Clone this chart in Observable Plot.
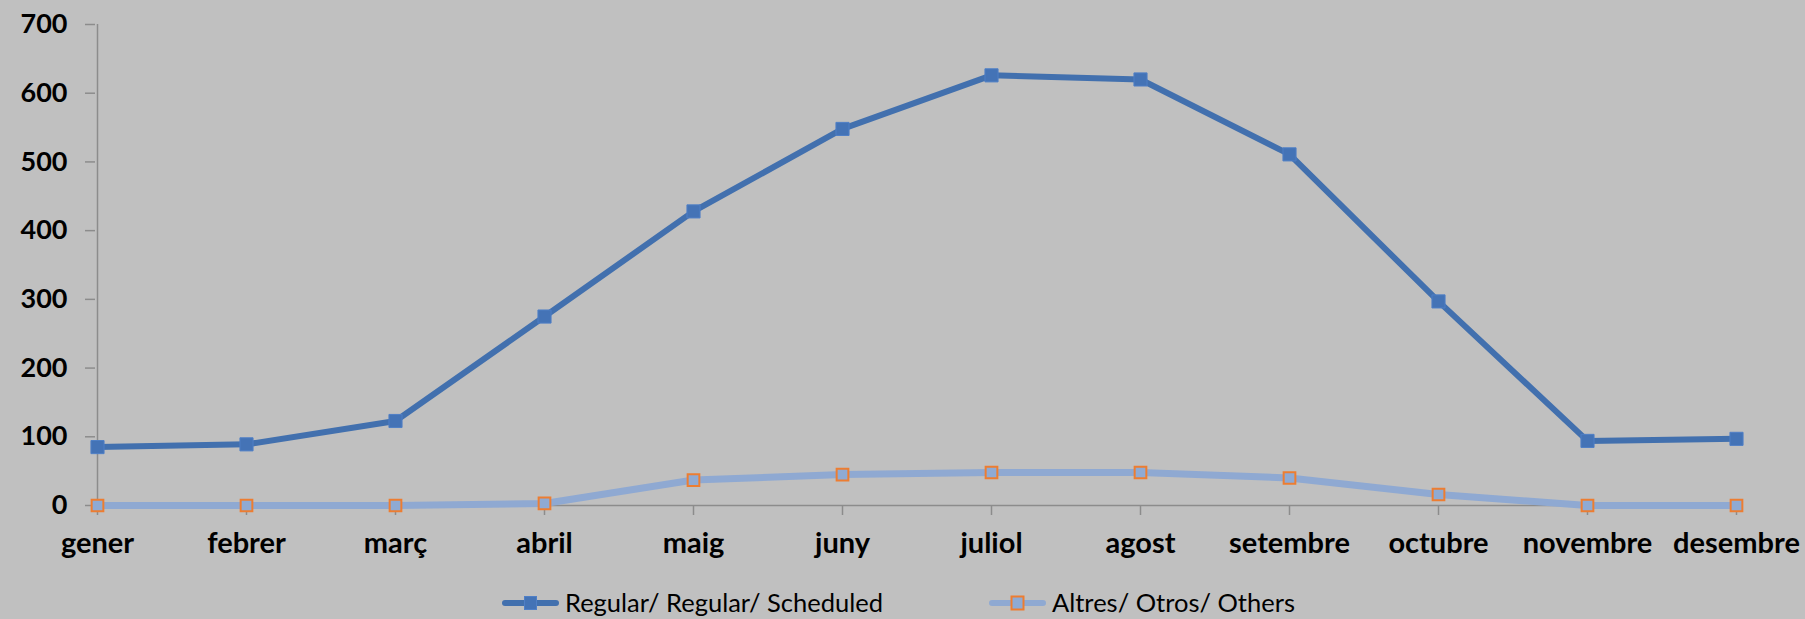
<!DOCTYPE html>
<html>
<head>
<meta charset="utf-8">
<script src="https://cdn.jsdelivr.net/npm/d3@7"></script>
<script src="https://cdn.jsdelivr.net/npm/@observablehq/plot@0.6"></script>
<style>
  html, body { margin: 0; padding: 0; background: #C0C0C0; }
  #wrap { position: relative; width: 1805px; height: 619px; background: #C0C0C0; overflow: hidden; }
  #legend { position: absolute; top: 589px; left: 0; width: 1805px; height: 28px; font-family: Lato, sans-serif; font-size: 25.5px; line-height: 1; color: #000; }
  .item { position: absolute; top: 0; height: 28px; display: flex; align-items: center; white-space: nowrap; }
  .item svg { margin-right: 6px; }
</style>
</head>
<body>
<div id="wrap"><div id="chart"></div><div id="legend"></div></div>
<script>
const months = ["gener","febrer","març","abril","maig","juny","juliol","agost","setembre","octubre","novembre","desembre"];
const regular = [85, 89, 123, 275, 428, 548, 626, 620, 511, 297, 94, 97];
const others  = [0, 0, 0, 3, 37, 45, 48, 48, 40, 16, 0, 0];
const yTicks = [0, 100, 200, 300, 400, 500, 600, 700];
const seriesNames = ["Regular/ Regular/ Scheduled", "Altres/ Otros/ Others"];

const colors = {
  regLine: "#4270AE", regFill: "#4473B6", regStroke: "#4F7FC6",
  othLine: "#8FA9D2", othFill: "#8FAAD3", othStroke: "#ED7D31",
  axis: "#8C8C8C"
};

const rows = months.map((m, i) => ({month: m, regular: regular[i], others: others[i]}));

const chart = Plot.plot({
  width: 1805,
  height: 580,
  marginLeft: 95,
  marginRight: 68,
  marginTop: 24,
  marginBottom: 75,
  style: {background: "#C0C0C0", fontFamily: "Lato, sans-serif", color: "#000", overflow: "visible"},
  x: {type: "point", domain: months, padding: 0},
  y: {domain: [0, 700]},
  marks: [
    Plot.ruleY([0], {stroke: colors.axis, strokeWidth: 1.5}),
    Plot.ruleX([months[0]], {y1: 0, y2: 700, stroke: colors.axis, strokeWidth: 1.5}),
    Plot.axisY({ticks: yTicks, tickSize: 10, tickPadding: 18, stroke: colors.axis, strokeWidth: 1.5, fill: "#000",
      fontSize: 27, fontWeight: "bold", tickFormat: d => String(d), label: null}),
    Plot.axisX({tickSize: 10, tickPadding: 17, stroke: colors.axis, strokeWidth: 1.5, fill: "#000",
      fontSize: 29, fontWeight: "bold", label: null}),
    Plot.line(rows, {x: "month", y: "others", stroke: colors.othLine, strokeWidth: 7, strokeLinejoin: "round"}),
    Plot.line(rows, {x: "month", y: "regular", stroke: colors.regLine, strokeWidth: 6, strokeLinejoin: "round"}),
    Plot.dot(rows, {x: "month", y: "regular", symbol: "square", r: 7.4, fill: colors.regFill, stroke: colors.regStroke, strokeWidth: 1}),
    Plot.dot(rows, {x: "month", y: "others", symbol: "square", r: 6.6, fill: colors.othFill, stroke: colors.othStroke, strokeWidth: 2})
  ]
});
document.getElementById("chart").appendChild(chart);

// Legend
const legend = document.getElementById("legend");
const legendDefs = [
  {name: seriesNames[0], left: 502, line: colors.regLine, lw: 6, fill: colors.regFill, stroke: colors.regStroke, sw: 1},
  {name: seriesNames[1], left: 989, line: colors.othLine, lw: 6, fill: colors.othFill, stroke: colors.othStroke, sw: 2}
];
for (const d of legendDefs) {
  const item = document.createElement("div");
  item.className = "item";
  item.style.left = d.left + "px";
  const sv = d3.create("svg").attr("width", 57).attr("height", 20);
  sv.append("line").attr("x1", 3).attr("x2", 54).attr("y1", 10).attr("y2", 10)
    .attr("stroke", d.line).attr("stroke-width", d.lw).attr("stroke-linecap", "round");
  sv.append("rect").attr("x", 22.5).attr("y", 3.5).attr("width", 12).attr("height", 13)
    .attr("fill", d.fill).attr("stroke", d.stroke).attr("stroke-width", d.sw);
  item.appendChild(sv.node());
  const t = document.createElement("span");
  t.textContent = d.name;
  item.appendChild(t);
  legend.appendChild(item);
}
</script>
</body>
</html>
